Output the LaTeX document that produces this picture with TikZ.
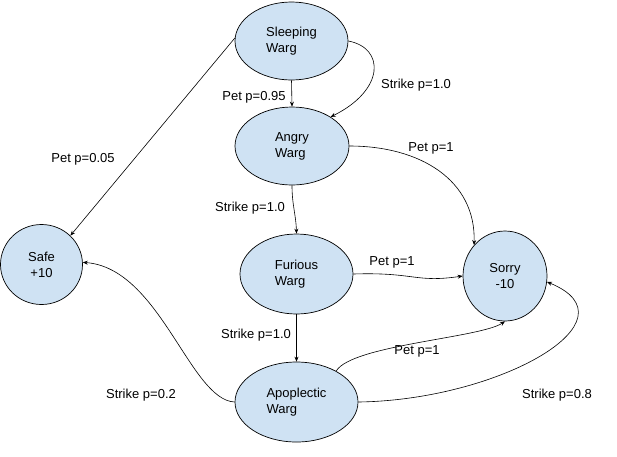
\documentclass[tikz,border=0pt]{standalone}
\usepackage{fontspec}
\setmainfont{Liberation Sans}
\usetikzlibrary{arrows.meta,shapes.geometric}
\definecolor{wargblue}{RGB}{207,226,243}

\begin{document}
\begin{tikzpicture}[x=1pt, y=-1pt,
  state/.style={ellipse, draw, line width=0.7pt, fill=wargblue, inner sep=0pt,
    font=\fontsize{13}{16}\selectfont},
  lbl/.style={font=\fontsize{13}{16}\selectfont, inner sep=0pt},
  arr/.style={line width=0.6pt, -{Stealth[length=5pt,width=4pt]}}]
\useasboundingbox (0,0) rectangle (617,456);
%%%%%%%%% states
\node [state, minimum width=113, minimum height=78, align=left] (sleep) at (291.5,41) {Sleeping\\Warg};
\node [state, minimum width=114, minimum height=78, align=left] (angry) at (292,146) {Angry\\Warg};
\node [state, minimum width=113, minimum height=80, align=left] (furious) at (296.5,274) {Furious\\Warg};
\node [state, minimum width=123, minimum height=80, align=left] (apo) at (296.5,402) {Apoplectic\\Warg};
\node [state, minimum width=84, minimum height=90, align=center] (sorry) at (505,276) {Sorry\\-10};
\node [state, minimum width=82, minimum height=80, align=center] (safe) at (41.5,264.5) {Safe\\+10};
%%%%%%%%% transitions
\draw [arr] (sleep.south) -- (angry.north);
\draw [arr] (sleep.east) .. controls (385,48) and (385,90) .. (angry.37);
\draw [arr] (sleep.177) -- (safe.45);
\draw [arr] (angry.east) .. controls (420,146) and (476,180) .. (sorry.135);
\draw [arr] (angry.south) .. controls (292,205) and (296,215) .. (furious.north);
\draw [arr] (furious.east) .. controls (415,272) and (415,283) .. (sorry.west);
\draw [arr] (furious.south) -- (apo.north);
\draw [arr] (apo.38) .. controls (352,345) and (480,338) .. (sorry.south);
\draw [arr] (apo.east) .. controls (500,400) and (640,320) .. (sorry.-8);
\draw [arr] (apo.west) .. controls (190,400) and (160,268) .. (safe.3);
%%%%%%%%% labels
\node [lbl] (l1) at (254,97) {Pet p=0.95};
\node [lbl] (l2) at (416,85) {Strike p=1.0};
\node [lbl] (l3) at (83,159) {Pet p=0.05};
\node [lbl] (l4) at (431,148) {Pet p=1};
\node [lbl] (l5) at (250,208) {Strike p=1.0};
\node [lbl] (l6) at (392,262) {Pet p=1};
\node [lbl] (l7) at (256,335) {Strike p=1.0};
\node [lbl] (l8) at (417,351) {Pet p=1};
\node [lbl] (l9) at (557,395) {Strike p=0.8};
\node [lbl] (l10) at (141,395) {Strike p=0.2};
\end{tikzpicture}
\end{document}
